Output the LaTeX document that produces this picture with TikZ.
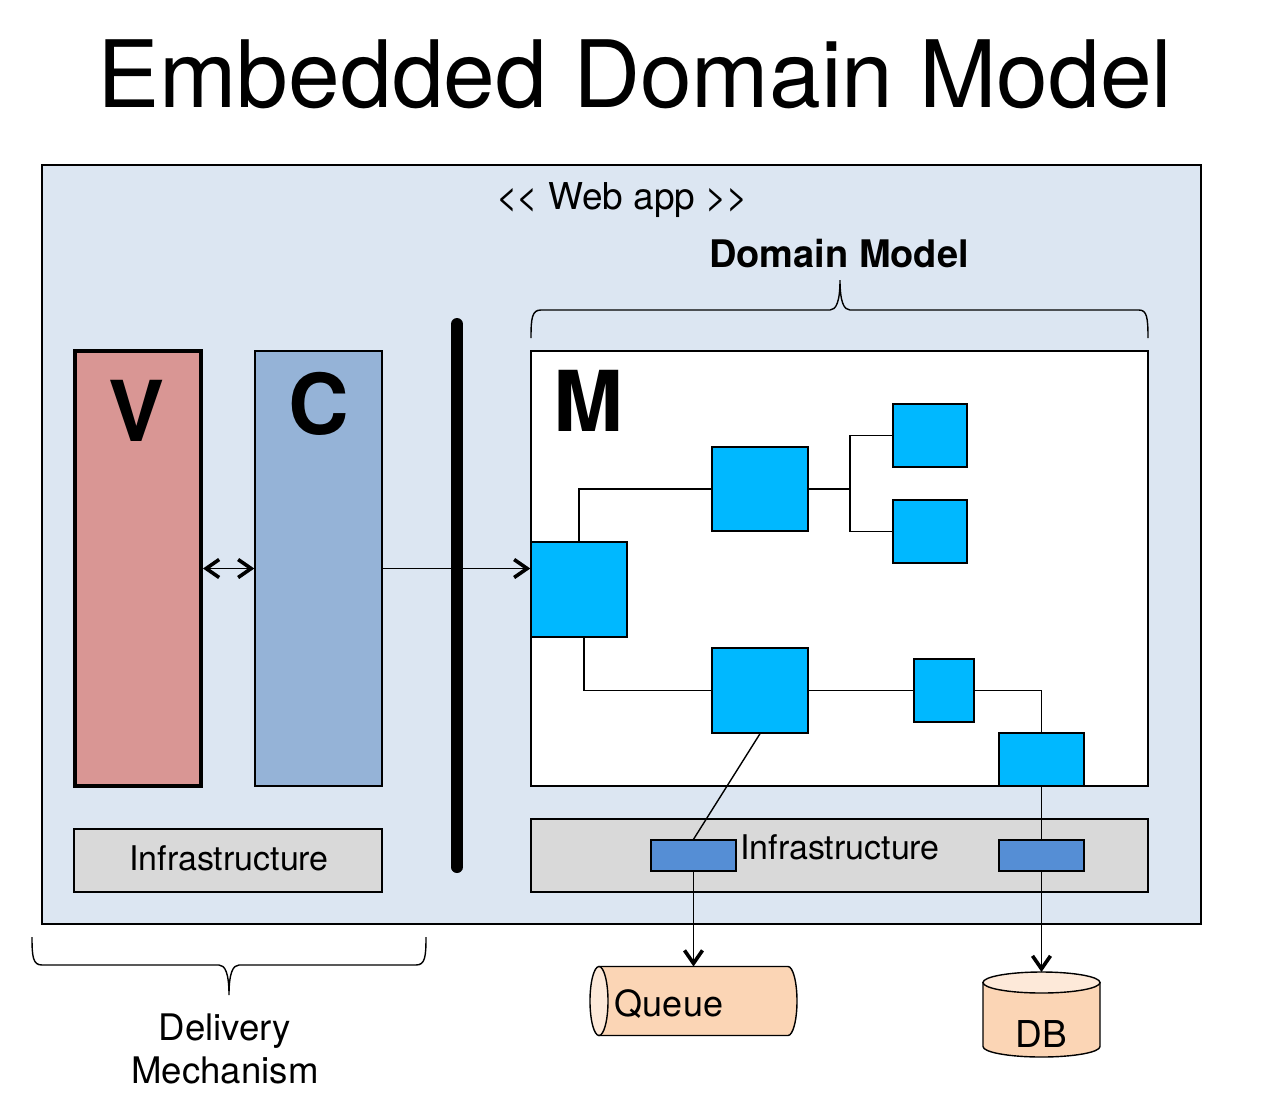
\documentclass[tikz,border=0pt]{standalone}
\usepackage{fontspec}
\setmainfont{TeX Gyre Heros}
\usetikzlibrary{arrows.meta}
\definecolor{appbg}{HTML}{DCE6F2}
\definecolor{vred}{HTML}{D99694}
\definecolor{cblue}{HTML}{95B3D7}
\definecolor{mblue}{HTML}{00B8FF}
\definecolor{pblue}{HTML}{558ED5}
\definecolor{infgray}{HTML}{D9D9D9}
\definecolor{peach}{HTML}{FBD5B5}
\definecolor{peachlt}{HTML}{FDE9D9}
\begin{document}
\begin{tikzpicture}[x=0.5pt,y=-0.5pt,
    box/.style={draw,line width=0.7pt,inner sep=0pt},
    blk/.style={box,fill=mblue},
    port/.style={box,fill=pblue},
    infra/.style={box,fill=infgray},
    big/.style={inner sep=0pt,anchor=base,font=\bfseries\fontsize{42}{46}\selectfont},
    lbl/.style={inner sep=0pt,anchor=base,font=\fontsize{17}{21.5}\selectfont},
    store/.style={line width=0.7pt},
    wire/.style={line width=0.7pt},
    arr/.style={wire,-{Straight Barb[length=6.5pt,width=9pt,line width=1.8pt]}},
    arrs/.style={wire,{Straight Barb[length=6.5pt,width=9pt,line width=1.8pt]}-{Straight Barb[length=6.5pt,width=9pt,line width=1.8pt]}},
    brc/.style={line width=0.7pt}]
  \useasboundingbox (0,0) rectangle (1271,1100);
  \node[inner sep=0pt,anchor=base,font=\fontsize{46.5}{50}\selectfont] (title) at (635,107) {Embedded Domain Model};
  % web app
  \node[box,line width=0.6pt,fill=appbg,minimum width=579.5pt,minimum height=379.5pt] (app) at (621.5,544.5) {};
  \node[lbl,font=\fontsize{18.5}{22}\selectfont] (webapp) at (622,209) {<\kern-0.6pt< Web app >\kern-0.6pt>};
  \node[lbl,font=\bfseries\fontsize{19}{23}\selectfont] (dmlabel) at (839,267) {Domain Model};
  \draw[brc] (531,338) .. controls (531,318) and (532,310) .. (541,310) -- (830,310)
    .. controls (836,310) and (840,302) .. (840,280) .. controls (840,302) and (844,310) .. (850,310)
    -- (1139,310) .. controls (1147,310) and (1148,318) .. (1148,338);
  % delivery mechanism
  \node[box,line width=2pt,fill=vred,minimum width=63pt,minimum height=217.5pt] (view) at (138,568.5) {};
  \node[big] (vlbl) at (137,441) {V};
  \node[box,fill=cblue,minimum width=63.5pt,minimum height=217.5pt] (ctrl) at (318.5,568.5) {};
  \node[big] (clbl) at (319,434) {C};
  \node[infra,minimum width=154pt,minimum height=31.5pt] (infl) at (228,860.5) {};
  \node[lbl] (infllbl) at (229,870) {Infrastructure};
  \draw[brc] (32,937) .. controls (32,957) and (33,965) .. (42,965) -- (219,965)
    .. controls (225,965) and (229,973) .. (229,995) .. controls (229,973) and (233,965) .. (239,965)
    -- (416,965) .. controls (425,965) and (426,957) .. (426,937);
  \node[lbl,anchor=north,align=center,font=\fontsize{18.3}{21.5}\selectfont] (dmech) at (225,1013) {Delivery\\Mechanism};
  % domain model
  \node[box,fill=white,minimum width=308.5pt,minimum height=217.5pt] (model) at (839.5,568.5) {};
  \node[big] (mlbl) at (588,431) {M};
  \node[infra,minimum width=308.5pt,minimum height=36.5pt] (infr) at (839.5,855.5) {};
  \node[lbl] (infrlbl) at (840,859) {Infrastructure};
  \node[blk,minimum width=48pt,minimum height=47.5pt] (root) at (579,589.5) {};
  \node[blk,minimum width=48pt,minimum height=42pt] (objb) at (760,489) {};
  \node[blk,minimum width=37pt,minimum height=31.5pt] (leafa) at (930,435.5) {};
  \node[blk,minimum width=37pt,minimum height=31.5pt] (leafb) at (930,531.5) {};
  \node[blk,minimum width=48pt,minimum height=42.5pt] (objd) at (760,690.5) {};
  \node[blk,minimum width=30pt,minimum height=31.5pt] (obje) at (944,690.5) {};
  \node[blk,minimum width=42.5pt,minimum height=26.5pt] (objf) at (1041.5,759.5) {};
  \node[port,minimum width=42.5pt,minimum height=15.5pt] (qport) at (693.5,855.5) {};
  \node[port,minimum width=42.5pt,minimum height=15.5pt] (dbport) at (1041.5,855.5) {};
  % stores
  \filldraw[store,fill=peach] (599,966.5) -- (788,966.5)
    arc[start angle=90,end angle=-90,x radius=4.5pt,y radius=17.25pt] -- (599,1035.5) -- cycle;
  \filldraw[store,fill=peachlt] (599,1001) ellipse[x radius=4.5pt,y radius=17.25pt];
  \coordinate (queue) at (693.5,966.5);
  \node[lbl,font=\fontsize{18}{22}\selectfont] (qlbl) at (669,1016) {Queue};
  \filldraw[store,fill=peach] (983,982.5) -- (983,1046.5)
    arc[start angle=180,end angle=360,x radius=29.25pt,y radius=5.25pt] -- (1100,982.5) -- cycle;
  \filldraw[store,fill=peachlt] (1041.5,982.5) ellipse[x radius=29.25pt,y radius=5.25pt];
  \coordinate (db) at (1041.5,972);
  \node[lbl,font=\fontsize{18.5}{22}\selectfont] (dblbl) at (1041,1047) {DB};
  % connectors
  \draw[arrs] (view.east) -- (ctrl.west);
  \draw[arr] (ctrl.east) -- (ctrl.east -| root.west);
  \coordinate (bartop) at (457,324);
  \coordinate (barbot) at (457,867);
  \draw[line width=6pt,line cap=round] (bartop) -- (barbot);
  \coordinate (fork) at (850,489);
  \draw[wire] (root.north) |- (objb.west);
  \draw[wire] (objb.east) -- (fork);
  \draw[wire] (fork) |- (leafa.west);
  \draw[wire] (fork) |- (leafb.west);
  \draw[wire] ([xshift=2.5pt]root.south) |- (objd.west);
  \draw[wire] (objd.east) -- (obje.west);
  \draw[wire] (obje.east) -| (objf.north);
  \draw[wire] (objd.south) -- (qport.north);
  \draw[wire] (objf.south) -- (dbport.north);
  \draw[arr] (qport.south) -- (queue);
  \draw[arr] (dbport.south) -- (db);
\end{tikzpicture}
\end{document}
